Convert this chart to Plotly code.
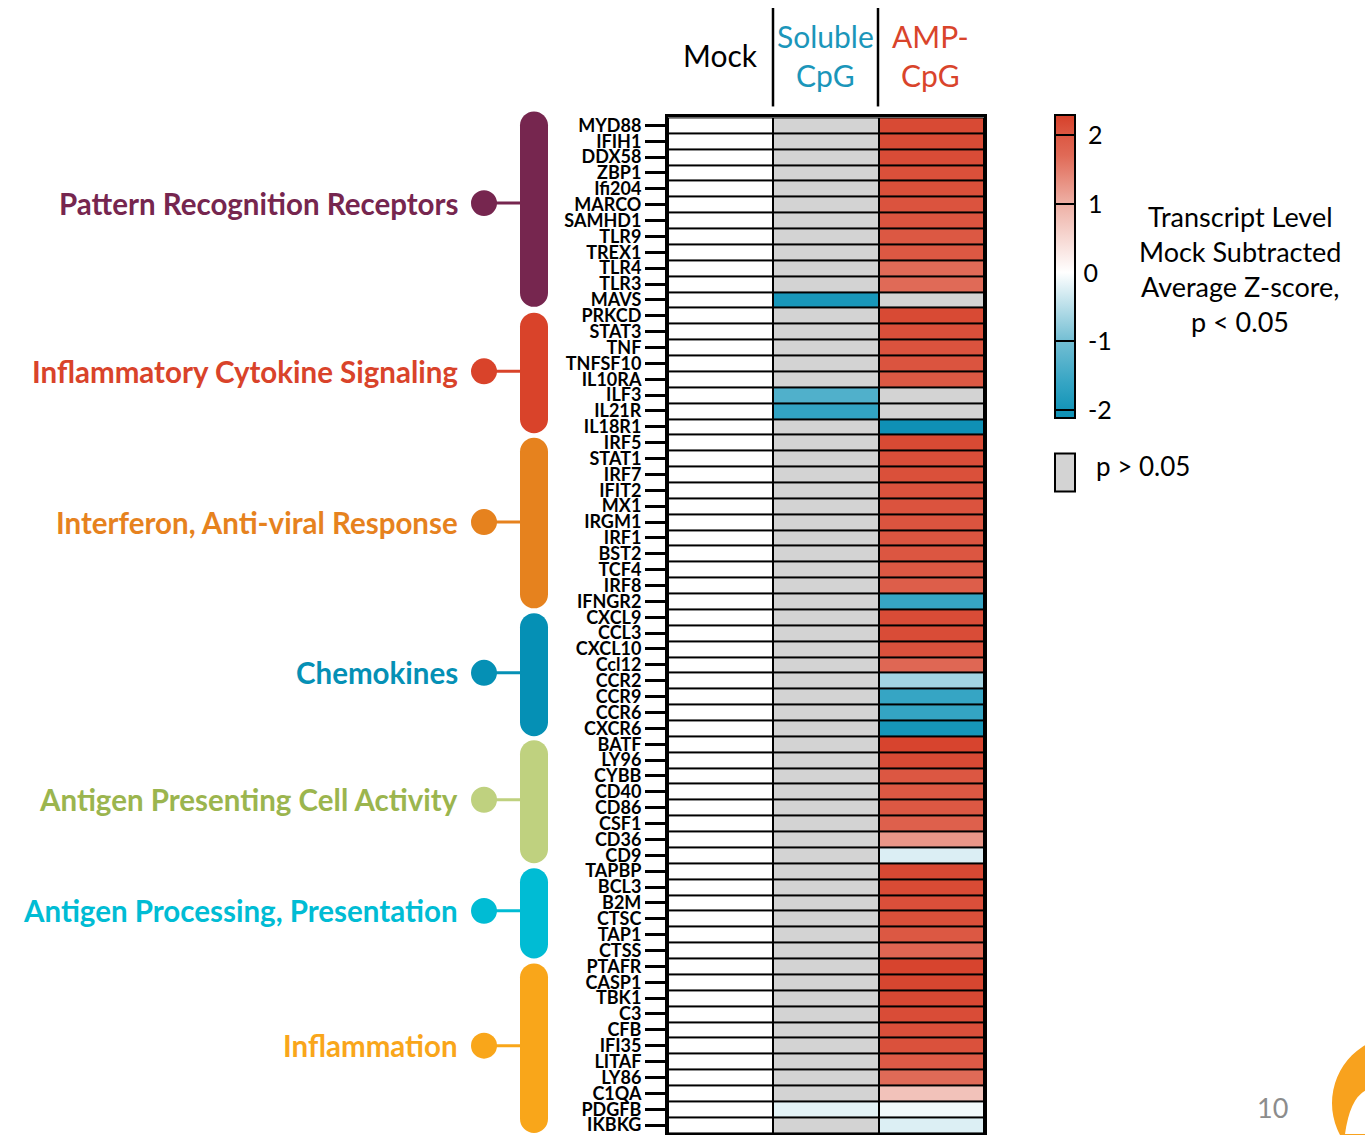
import plotly.graph_objects as go
import numpy as np

W, H = 1365, 1135

genes = ["MYD88", "IFIH1", "DDX58", "ZBP1", "Ifi204", "MARCO", "SAMHD1", "TLR9", "TREX1", "TLR4", "TLR3", "MAVS",
         "PRKCD", "STAT3", "TNF", "TNFSF10", "IL10RA", "ILF3", "IL21R", "IL18R1",
         "IRF5", "STAT1", "IRF7", "IFIT2", "MX1", "IRGM1", "IRF1", "BST2", "TCF4", "IRF8", "IFNGR2",
         "CXCL9", "CCL3", "CXCL10", "Ccl12", "CCR2", "CCR9", "CCR6", "CXCR6",
         "BATF", "LY96", "CYBB", "CD40", "CD86", "CSF1", "CD36", "CD9",
         "TAPBP", "BCL3", "B2M", "CTSC", "TAP1", "CTSS",
         "PTAFR", "CASP1", "TBK1", "C3", "CFB", "IFI35", "LITAF", "LY86", "C1QA", "PDGFB", "IKBKG"]

group_names = ["Pattern Recognition Receptors", "Inflammatory Cytokine Signaling", "Interferon, Anti-viral Response",
               "Chemokines", "Antigen Presenting Cell Activity", "Antigen Processing, Presentation", "Inflammation"]
group_sizes = [12, 8, 11, 8, 8, 6, 11]
group_colors = ["#76264F", "#D9432A", "#E6821E", "#0590B5", "#BFD17F", "#00BCD4", "#F9A61A"]
group_text_colors = ["#76264F", "#D9432A", "#E6821E", "#0590B5", "#9BB54E", "#00BCD4", "#F9A61A"]

conditions = ["Mock", "Soluble CpG", "AMP-CpG"]

# Mock subtracted: mock column is zero for every transcript
mock_z = [0.0] * 64

# None = p > 0.05 (grey)
soluble_z = [None, None, None, None, None, None, None, None, None, None, None, -1.95,
             None, None, None, None, None, -1.34, -1.65, None,
             None, None, None, None, None, None, None, None, None, None, None,
             None, None, None, None, None, None, None, None,
             None, None, None, None, None, None, None, None,
             None, None, None, None, None, None,
             None, None, None, None, None, None, None, None, None, -0.2, None]

amp_z = [2.17, 2.16, 2.14, 2.10, 2.10, 2.06, 2.05, 2.00, 2.00, 1.70, 1.70, None,
         2.17, 2.11, 2.06, 2.05, 2.00, None, None, -2.10,
         2.17, 2.12, 2.10, 2.07, 2.06, 2.05, 2.04, 2.02, 2.00, 1.90, -1.60,
         2.14, 2.14, 2.08, 1.75, -0.66, -1.60, -1.62, -1.98,
         2.24, 2.17, 2.01, 2.00, 2.00, 1.87, 1.26, -0.26,
         2.19, 2.16, 2.11, 2.10, 2.00, 1.78,
         2.24, 2.22, 2.19, 2.14, 2.11, 2.08, 1.96, 1.70, 0.77, -0.10, -0.25]

cb_ticks = [-2, -1, 0, 1, 2]
cmin, cmax = -2.12, 2.29
scale_stops = [(-2.12, "#0E8FB4"), (-2.0, "#1495B8"), (-1.6, "#36A5C4"), (-1.0, "#73BED3"),
               (0.0, "#FFFFFF"), (1.0, "#EEB0A5"), (1.7, "#E06A57"), (2.0, "#DC5843"), (2.29, "#D6402A")]
colorscale = [[(v - cmin) / (cmax - cmin), c] for v, c in scale_stops]

n = len(genes)
cols = [mock_z, soluble_z, amp_z]
sig = np.full((n, 3), np.nan)
grey = np.full((n, 3), np.nan)
for j, col in enumerate(cols):
    for i, v in enumerate(col):
        if v is None:
            grey[i, j] = 1
        else:
            sig[i, j] = v

rows = list(range(n))
xs = list(range(3))

def px(x):
    return x / W

def py(y):
    return 1 - y / H

heat_top = 114
heat_left, heat_right = 668, 984
cb_top, cb_len, cb_left, cb_thick = 112, 303, 1055, 20
row_px = (H - heat_top) / n

def row_to_paper(r):
    # row index (axis units) -> paper y, following the y axis domain / range
    return py(heat_top + (r + 0.5) * row_px)

# ticks drawn as black divider lines inside the bar (no divider at 0)
line_ticks = [t for t in cb_ticks if t != 0]
nb = "\u00a0"

fig = go.Figure()
fig.add_trace(go.Heatmap(z=grey, x=xs, y=rows, colorscale=[[0, "#D3D3D3"], [1, "#D3D3D3"]],
                         showscale=False, xgap=2, ygap=2, hoverinfo="skip"))
fig.add_trace(go.Heatmap(z=sig, x=xs, y=rows, colorscale=colorscale, zmin=cmin, zmax=cmax,
                         xgap=2, ygap=2,
                         colorbar=dict(x=px(cb_left), xanchor="left", xpad=0, ypad=0,
                                       y=py(cb_top), yanchor="top", lenmode="pixels", len=cb_len,
                                       thickness=cb_thick, outlinewidth=2, outlinecolor="black",
                                       tickvals=line_ticks, ticktext=[nb + str(t) for t in line_ticks],
                                       ticks="inside", ticklen=cb_thick, tickwidth=2, tickcolor="black",
                                       tickfont=dict(family="Lato", size=25, color="black"))))

fig.update_xaxes(domain=[px(heat_left), px(heat_right)], range=[-0.5, 2.5], showticklabels=False,
                 ticks="", showgrid=False, zeroline=False, showline=True, linewidth=3,
                 linecolor="black", mirror=True)
fig.update_yaxes(domain=[0, py(heat_top)], range=[n - 0.5, -0.5], tickvals=rows, ticktext=genes,
                 ticks="outside", ticklen=20, tickwidth=3, tickcolor="black", ticklabeloverflow="allow",
                 tickfont=dict(family="Lato", size=18, color="black", weight="bold"),
                 showgrid=False, zeroline=False, showline=True, linewidth=3, linecolor="black", mirror=True)

shapes = []
annotations = []

# "0" colorbar label (no divider line at 0)
y0_cb = cb_top + (cmax - 0) / (cmax - cmin) * cb_len
annotations.append(dict(x=px(cb_left + cb_thick), y=py(y0_cb), xref="paper", yref="paper", xanchor="left",
                        yanchor="middle", text=nb + "0", showarrow=False,
                        font=dict(family="Lato", size=25, color="black")))

# Group brackets
bar_x0, bar_x1 = 520, 548
r_px = 14
top_pad_px = [-6, 5, 3, 4, 4, 5, 5]
bot_pad_px = [1, 1.5, 1, 0, 0, 0, 0]
label_shift = [-0.6, 0, 0, 0, 0, 0, 0]
start = 0
for gi, (name, size, color, tcolor) in enumerate(zip(group_names, group_sizes, group_colors, group_text_colors)):
    ytop = row_to_paper(start - 0.5) - top_pad_px[gi] / H
    ybot = row_to_paper(start + size - 0.5) + bot_pad_px[gi] / H
    ry = r_px / H
    xa, xb = px(bar_x0), px(bar_x1)
    xm = (xa + xb) / 2
    k = 0.5523
    hx = (xb - xa) / 2
    path = (f"M {xa},{ytop - ry} C {xa},{ytop - ry + k * ry} {xm - k * hx},{ytop} {xm},{ytop} "
            f"C {xm + k * hx},{ytop} {xb},{ytop - ry + k * ry} {xb},{ytop - ry} "
            f"L {xb},{ybot + ry} C {xb},{ybot + ry - k * ry} {xm + k * hx},{ybot} {xm},{ybot} "
            f"C {xm - k * hx},{ybot} {xa},{ybot + ry - k * ry} {xa},{ybot + ry} Z")
    shapes.append(dict(type="path", xref="paper", yref="paper", path=path, fillcolor=color, line=dict(width=0)))
    yc = row_to_paper(start + (size - 1) / 2 + label_shift[gi])
    shapes.append(dict(type="line", xref="paper", yref="paper", x0=px(484), x1=px(bar_x0 + 2), y0=yc, y1=yc,
                       line=dict(color=color, width=3)))
    cr = 13
    shapes.append(dict(type="circle", xref="paper", yref="paper", x0=px(484 - cr), x1=px(484 + cr),
                       y0=yc - cr / H, y1=yc + cr / H, fillcolor=color, line=dict(width=0)))
    annotations.append(dict(x=px(460), y=yc, xref="paper", yref="paper", xanchor="right", yanchor="middle",
                            text=name, showarrow=False,
                            font=dict(family="Lato", size=29.5, color=tcolor, weight="bold")))
    start += size

# Header
shapes.append(dict(type="line", xref="paper", yref="paper", x0=px(773), x1=px(773), y0=py(4), y1=py(103),
                   line=dict(color="black", width=2.5)))
shapes.append(dict(type="line", xref="paper", yref="paper", x0=px(878), x1=px(878), y0=py(4), y1=py(103),
                   line=dict(color="black", width=2.5)))
hfont = dict(family="Lato", size=30)
annotations.append(dict(x=px(720), y=py(51), xref="paper", yref="paper", text="Mock", showarrow=False,
                        xanchor="center", yanchor="middle", font=dict(**hfont, color="black")))
annotations.append(dict(x=px(825), y=py(52), xref="paper", yref="paper", text="Soluble<br>CpG", showarrow=False,
                        xanchor="center", yanchor="middle", font=dict(**hfont, color="#1B96BA")))
annotations.append(dict(x=px(930), y=py(52), xref="paper", yref="paper", text="AMP-<br>CpG", showarrow=False,
                        xanchor="center", yanchor="middle", font=dict(**hfont, color="#D9442B")))

# Colorbar title
title_lines = ["Transcript Level", "Mock Subtracted", "Average Z-score,", "p < 0.05"]
for i, t in enumerate(title_lines):
    annotations.append(dict(x=px(1240), y=py(214 + 35 * i), xref="paper", yref="paper", text=t,
                            xanchor="center", yanchor="middle",
                            showarrow=False, font=dict(family="Lato", size=27, color="black")))

# Grey legend
shapes.append(dict(type="rect", xref="paper", yref="paper", x0=px(1055), x1=px(1075), y0=py(452), y1=py(490),
                   fillcolor="#D3D3D3", line=dict(color="black", width=2)))
annotations.append(dict(x=px(1094), y=py(464), xref="paper", yref="paper", xanchor="left", yanchor="middle",
                        text="p > 0.05", showarrow=False, font=dict(family="Lato", size=26, color="black")))

# Page number and logo
annotations.append(dict(x=px(1272), y=py(1109), xref="paper", yref="paper", text="10", showarrow=False,
                        xanchor="center", yanchor="middle",
                        font=dict(family="Lato", size=27, color="#8C8C8C")))
shapes.append(dict(type="circle", xref="paper", yref="paper", x0=px(1332), x1=px(1468), y0=py(1037),
                   y1=py(1173), fillcolor="#F8A21E", line=dict(width=0)))
shapes.append(dict(type="path", xref="paper", yref="paper",
                   path=f"M {px(1345)},{py(1136)} Q {px(1350)},{py(1100)} {px(1366)},{py(1092)} L {px(1366)},{py(1136)} Z",
                   fillcolor="white", line=dict(width=0)))

fig.update_layout(width=W, height=H, margin=dict(l=0, r=0, t=0, b=0),
                  paper_bgcolor="white", plot_bgcolor="black",
                  shapes=shapes, annotations=annotations, showlegend=False)

fig.write_html("out.html", config={"displayModeBar": False},
               post_script="document.body.style.margin='0px';")
